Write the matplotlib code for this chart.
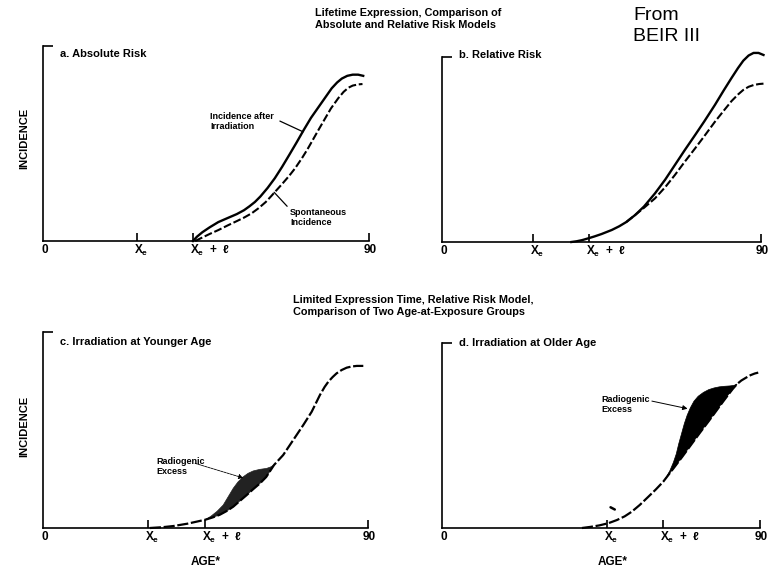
import matplotlib
matplotlib.use("Agg")
import matplotlib.pyplot as plt

plt.rcParams['font.family'] = ['Liberation Sans', 'DejaVu Sans']
plt.rcParams['mathtext.fontset'] = 'custom'
plt.rcParams['mathtext.rm'] = 'Liberation Sans'
plt.rcParams['mathtext.bf'] = 'Liberation Sans:bold'
plt.rcParams['mathtext.it'] = 'Liberation Sans:italic'

# ---- data (x = age 0..90, y = incidence, 1 = top of axis) ----
# a. absolute risk
a_solid_x = [41.4, 42.5, 44, 46, 48.4, 51, 53.5, 55.5, 57, 58.5, 60, 62, 64, 66, 68, 70, 72, 74,
             76, 78, 79.7, 81.2, 82.5, 84, 85.5, 87, 88.4]
a_solid_y = [0, 0.022, 0.045, 0.07, 0.097, 0.118, 0.138, 0.158, 0.178, 0.2, 0.228, 0.272, 0.322,
             0.38, 0.442, 0.505, 0.57, 0.632, 0.685, 0.738, 0.783, 0.813, 0.833, 0.847, 0.853,
             0.853, 0.847]
a_dash_x = [42, 44, 46, 48.4, 51, 53.5, 55.5, 57.6, 59.5, 61.5, 63, 64.1, 66, 68, 69.6, 71.5, 73,
            74.2, 76, 77.9, 79.5, 81.5, 83, 84.3, 85.5, 87, 88.2]
a_dash_y = [0, 0.018, 0.036, 0.056, 0.08, 0.102, 0.12, 0.142, 0.168, 0.2, 0.23, 0.253, 0.292,
            0.335, 0.373, 0.425, 0.47, 0.509, 0.568, 0.629, 0.68, 0.732, 0.765, 0.786, 0.797,
            0.803, 0.805]
a_ticks = [26, 41.4, 90]

# b. relative risk
b_solid_x = [36.5, 38, 39.5, 41.3, 43, 45, 47.9, 50, 52, 54.5, 57, 60.1, 63, 65.7, 68.5, 71.4,
             74, 77, 79.5, 81.7, 83.5, 85, 86.5, 87.9, 89.3, 90.7]
b_solid_y = [0, 0.004, 0.01, 0.02, 0.03, 0.043, 0.065, 0.085, 0.108, 0.146, 0.192, 0.263, 0.338,
             0.416, 0.497, 0.578, 0.652, 0.741, 0.82, 0.887, 0.94, 0.98, 1.008, 1.022, 1.022,
             1.011]
b_dash_x = [52, 54.5, 57, 60.1, 63, 65.7, 68.5, 71.4, 74, 77, 79.5, 81.7, 83.5, 85, 86.5, 88,
            89.5, 90.7]
b_dash_y = [0.108, 0.146, 0.185, 0.236, 0.297, 0.362, 0.434, 0.506, 0.572, 0.65, 0.71, 0.762,
            0.797, 0.822, 0.839, 0.849, 0.854, 0.856]
b_ticks = [25.7, 41.5, 90]

# c. irradiation at younger age (dashed = spontaneous, excess = upper edge of shaded area)
c_dash_x = [29.6, 33, 36.1, 40, 44.9, 47, 49, 51, 52.7, 54.5, 56.4, 58.2, 60.1, 61.8, 64, 66.5,
            69.3, 72.1, 74.4, 76.7, 78, 79, 80.2, 81.3, 82.7, 84.1, 85.5, 86.9, 88.7]
c_dash_y = [0, 0.004, 0.01, 0.022, 0.042, 0.054, 0.068, 0.088, 0.109, 0.138, 0.168, 0.198, 0.228,
            0.26, 0.322, 0.372, 0.449, 0.526, 0.593, 0.679, 0.72, 0.746, 0.77, 0.789, 0.806,
            0.818, 0.824, 0.827, 0.827]
c_excess_x = [44.9, 46.5, 48.2, 49.9, 51.3, 52.7, 54, 55.5, 56.8, 58.2, 60, 61.9, 63, 64]
c_excess_y = [0.042, 0.06, 0.085, 0.117, 0.16, 0.203, 0.235, 0.262, 0.279, 0.291, 0.299, 0.304,
              0.311, 0.322]
c_ticks = [29, 44.9, 90]

# d. irradiation at older age
d_dash_x = [39.6, 42, 44.5, 47.1, 49.5, 51.7, 53.7, 56, 58.4, 60.5, 62.6, 64.2, 65.9, 68, 70.5,
            73, 75.5, 77.5, 79.5, 81, 82.3, 83.5, 84.7, 86, 87.3, 88.5, 89.5]
d_dash_y = [0, 0.006, 0.014, 0.026, 0.043, 0.063, 0.088, 0.125, 0.169, 0.208, 0.25, 0.29, 0.332,
            0.385, 0.45, 0.515, 0.578, 0.63, 0.682, 0.72, 0.752, 0.778, 0.797, 0.812, 0.826,
            0.835, 0.84]
d_excess_x = [62.6, 63.5, 64.5, 65.5, 66.3, 67, 67.8, 68.6, 69.4, 70.3, 71.3, 72.5, 74, 75.5, 77,
              78.5, 80, 81.5, 82.7, 83.5]
d_excess_y = [0.25, 0.275, 0.31, 0.355, 0.40, 0.455, 0.51, 0.565, 0.61, 0.65, 0.685, 0.712, 0.733,
              0.748, 0.757, 0.763, 0.766, 0.768, 0.771, 0.778]
d_ticks = [46.7, 62.6, 90]

tick_labels = ['0', r'$\mathbf{X_e}$', r'$\mathbf{X_e}$  +  ℓ', '90']

W, H = 778, 574


def fx(px):
    return px / W


def fy(py):
    return 1 - py / H


def make_axes(fig, left, top, right, bottom, ticks, title, title_y):
    ax = fig.add_axes([fx(left), fy(bottom), (right - left) / W, (bottom - top) / H])
    ax.set_xlim(0, 90)
    ax.set_ylim(0, 1)
    for s in ['top', 'right']:
        ax.spines[s].set_visible(False)
    for s in ['left', 'bottom']:
        ax.spines[s].set_linewidth(1.2)
    ax.set_xticks(ticks)
    ax.set_xticklabels([])
    ax.tick_params(axis='x', direction='in', length=5.5, width=1.2)
    ax.set_yticks([1])
    ax.set_yticklabels([])
    ax.tick_params(axis='y', direction='in', length=7, width=1.2)
    ax.patch.set_alpha(0)
    # tick labels: 0, Xe, Xe + l, 90
    ax.annotate(tick_labels[0], xy=(0, 0), xytext=(1.5, -6.5), textcoords='offset points',
                ha='center', va='center', fontsize=8.5, fontweight='bold')
    ax.annotate(tick_labels[1], xy=(ticks[0], 0), xytext=(-2.3, -6.5), textcoords='offset points',
                ha='left', va='center', fontsize=8.5, fontweight='bold')
    ax.annotate(tick_labels[2], xy=(ticks[1], 0), xytext=(-2, -6.5), textcoords='offset points',
                ha='left', va='center', fontsize=8.5, fontweight='bold')
    ax.annotate(tick_labels[3], xy=(ticks[2], 0), xytext=(0.5, -6.5), textcoords='offset points',
                ha='center', va='center', fontsize=8.5, fontweight='bold')
    fig.text(fx(left + 17), fy(title_y), title, ha='left', va='center',
             fontsize=8, fontweight='bold')
    return ax


def shade(ax, top_x, top_y, low_x, low_y, color):
    # area between the excess curve and the spontaneous curve
    lo = [(x, y) for x, y in zip(low_x, low_y) if top_x[0] <= x <= top_x[-1]]
    xs = list(top_x) + [p[0] for p in lo[::-1]]
    ys = list(top_y) + [p[1] for p in lo[::-1]]
    ax.fill(xs, ys, color=color, lw=0.5, ec=color)


fig = plt.figure(figsize=(7.78, 5.74), dpi=100)

fig.text(fx(315), fy(8), 'Lifetime Expression, Comparison of\nAbsolute and Relative Risk Models',
         ha='left', va='top', fontsize=7.8, fontweight='bold', linespacing=1.3)
fig.text(fx(293), fy(295), 'Limited Expression Time, Relative Risk Model,\n'
         'Comparison of Two Age-at-Exposure Groups',
         ha='left', va='top', fontsize=7.8, fontweight='bold', linespacing=1.3)
fig.text(fx(633), fy(7), 'From\nBEIR III', ha='left', va='top', fontsize=14, linespacing=1.3)

# panel a
ax = make_axes(fig, 43, 46, 369, 241, a_ticks, 'a. Absolute Risk', 54)
ax.plot(a_solid_x, a_solid_y, color='black', lw=1.7, clip_on=False, solid_joinstyle='round')
ax.plot(a_dash_x, a_dash_y, color='black', lw=1.5, dashes=(3.8, 1.3), clip_on=False)
ax.text(46.1, 0.66, 'Incidence after\nIrradiation', ha='left', va='top', fontsize=6.5,
        fontweight='bold', linespacing=1.1)
ax.annotate('', xy=(71.8, 0.56), xytext=(65.4, 0.615),
            arrowprops=dict(arrowstyle='-', lw=0.9, shrinkA=0, shrinkB=0))
ax.text(68.2, 0.17, 'Spontaneous\nIncidence', ha='left', va='top', fontsize=6.5,
        fontweight='bold', linespacing=1.1)
ax.annotate('', xy=(63.8, 0.25), xytext=(67.4, 0.178),
            arrowprops=dict(arrowstyle='-', lw=0.9, shrinkA=0, shrinkB=0))

# panel b
ax = make_axes(fig, 442, 57, 761, 242, b_ticks, 'b. Relative Risk', 55)
ax.plot(b_solid_x, b_solid_y, color='black', lw=1.7, clip_on=False, solid_joinstyle='round')
ax.plot(b_dash_x, b_dash_y, color='black', lw=1.5, dashes=(3.8, 1.3), clip_on=False)

# panel c
ax = make_axes(fig, 43, 332, 368, 528, c_ticks, 'c. Irradiation at Younger Age', 342)
shade(ax, c_excess_x, c_excess_y, c_dash_x, c_dash_y, '#222222')
ax.plot(c_dash_x, c_dash_y, color='black', lw=1.6, dashes=(5, 1.2), clip_on=False)
ax.text(31.3, 0.36, 'Radiogenic\nExcess', ha='left', va='top', fontsize=6.5,
        fontweight='bold', linespacing=1.1)
ax.annotate('', xy=(55.5, 0.255), xytext=(42.1, 0.33),
            arrowprops=dict(arrowstyle='-|>', lw=0.6, ls=(0, (3, 1)), color='black',
                            mutation_scale=7, shrinkA=0, shrinkB=0))
fig.text(fx(206), fy(562), 'AGE*', ha='center', va='center', fontsize=8.5, fontweight='bold')
fig.text(fx(24), fy(138), 'INCIDENCE', ha='center', va='center', rotation=90,
         fontsize=8, fontweight='bold')
fig.text(fx(24), fy(426), 'INCIDENCE', ha='center', va='center', rotation=90,
         fontsize=8, fontweight='bold')

# panel d
ax = make_axes(fig, 442, 343, 760, 528, d_ticks, 'd. Irradiation at Older Age', 343)
shade(ax, d_excess_x, d_excess_y, d_dash_x, d_dash_y, 'black')
ax.plot(d_dash_x, d_dash_y, color='black', lw=1.6, dashes=(5, 1.2), clip_on=False)
ax.plot([47.7, 48.9], [0.112, 0.1], color='black', lw=1.8, solid_capstyle='round')
ax.text(45, 0.72, 'Radiogenic\nExcess', ha='left', va='top', fontsize=6.5,
        fontweight='bold', linespacing=1.1)
ax.annotate('', xy=(69.5, 0.645), xytext=(59.4, 0.686),
            arrowprops=dict(arrowstyle='-|>', lw=0.7, color='black',
                            mutation_scale=7, shrinkA=0, shrinkB=0))
fig.text(fx(613), fy(562), 'AGE*', ha='center', va='center', fontsize=8.5, fontweight='bold')

fig.savefig('out.png', dpi=100)
